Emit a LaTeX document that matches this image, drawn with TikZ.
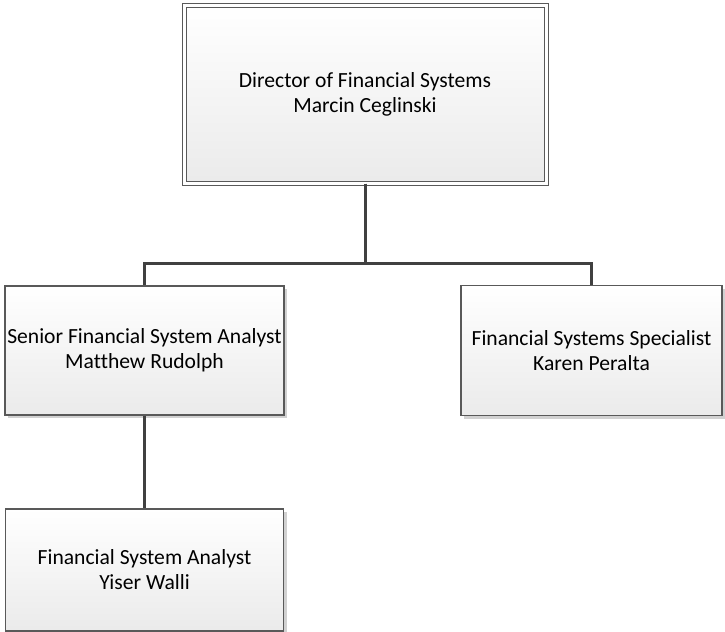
\documentclass[tikz,border=0pt]{standalone}
\usepackage{fontspec}
\setmainfont{Carlito}[Ligatures=CommonOff]
\usetikzlibrary{shadows}

\begin{document}
\begin{tikzpicture}[x=0.5pt, y=-0.5pt, level distance=128.25pt, sibling distance=223.5pt,
    level 2/.style={level distance=109.75pt},
    every node/.style = {shape=rectangle, draw=black!65, line width=0.6pt, align=center, inner sep=0pt, top color=white, bottom color=black!8, drop shadow={shadow xshift=1.5pt, shadow yshift=-1.5pt, fill=black!18, opacity=1}, font=\fontsize{10.8}{12.5}\selectfont},
    edge from parent/.style={draw=black!75, line width=1.5pt},
    edge from parent path={(\tikzparentnode.south) -- ([yshift=-39.75pt]\tikzparentnode.south) -| (\tikzchildnode.north)}]
    \useasboundingbox (0,0) rectangle (725,632);
    \node (director) at (365,94) [minimum width=181pt, minimum height=89pt, double=white, double distance=1.5pt, line width=0.5pt] {Director of Financial Systems\\Marcin Ceglinski}
        child[xshift=1.5pt]{ node (senior) [minimum width=139.5pt, minimum height=64.5pt] {Senior Financial System Analyst\\Matthew Rudolph}
            child{ node (analyst) [minimum width=139pt, minimum height=61pt] {Financial System Analyst\\Yiser Walli}}}
        child[xshift=1.5pt]{ node (specialist) [minimum width=130.5pt, minimum height=65pt] {Financial Systems Specialist\\Karen Peralta}};
\end{tikzpicture}
\end{document}
